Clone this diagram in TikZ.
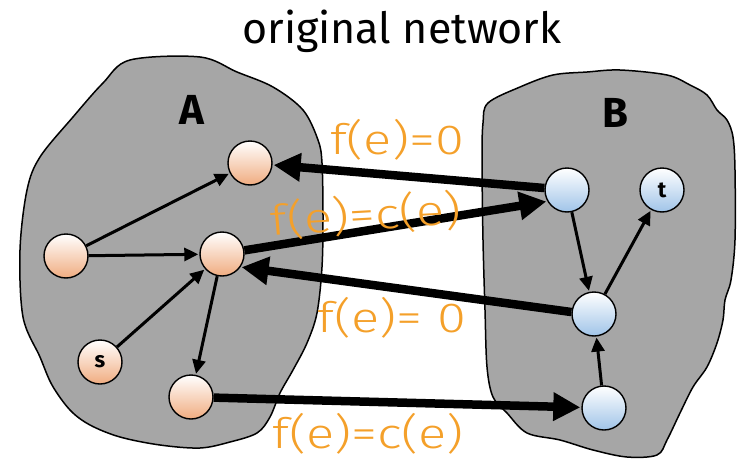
\documentclass[tikz,border=0pt]{standalone}
\usepackage{fontspec}
\setmainfont{Fira Sans}
\newfontfamily\lightfont{Fira Sans Light}
\usetikzlibrary{arrows.meta}
\definecolor{blobgray}{RGB}{166,166,166}
\definecolor{peach}{RGB}{240,172,128}
\definecolor{skyb}{RGB}{160,196,232}
\definecolor{lblorange}{RGB}{244,160,42}
\tikzset{
  blob/.style={fill=blobgray, draw=black, line width=1.5pt},
  anode/.style={circle, draw=black, line width=1.4pt, minimum size=44pt, inner sep=0pt, top color=white, bottom color=peach, font=\bfseries\fontsize{22}{22}\selectfont},
  bnode/.style={circle, draw=black, line width=1.4pt, minimum size=44pt, inner sep=0pt, top color=white, bottom color=skyb, font=\bfseries\fontsize{22}{22}\selectfont},
  thin/.style={line width=3pt, -{Triangle[length=14pt,width=13pt]}, shorten >=1pt},
  thick/.style={line width=8.5pt, -{Triangle[length=27pt,width=27pt]}, shorten >=1pt},
  flab/.style={text=lblorange, font=\lightfont\fontsize{42}{42}\selectfont, inner sep=0pt, xscale=1.25},
  setlab/.style={font=\bfseries\fontsize{42}{42}\selectfont, inner sep=0pt},
}
\begin{document}
\begin{tikzpicture}[x=1pt,y=-1pt]
\useasboundingbox (0,0) rectangle (740,461);
% blobs
\path[blob] plot[smooth cycle, tension=0.55] coordinates {
 (130,60) (200,57) (237,72) (273,87) (303,110) (318,140) (322,163) (323,217)
 (322,267) (317,313) (307,343) (293,370) (280,393) (270,417) (257,433) (230,442)
 (200,448) (160,445) (120,437) (90,425) (70,410) (52,385) (40,357) (23,317) (20,250)
 (27,190) (40,157) (73,117) (103,83)};
\path[blob] plot[smooth cycle, tension=0.55] coordinates {
 (488,103) (520,87) (553,75) (587,72) (620,70) (667,75) (690,85) (707,95) (717,110)
 (727,120) (733,137) (735,170) (735,240) (731,280) (725,300) (723,320) (717,343)
 (707,367) (693,387) (680,413) (667,440) (657,455) (627,457) (593,450) (560,440)
 (527,433) (507,413) (493,397) (487,367) (485,310) (483,240) (482,160) (483,123)};
% title and set labels
\node[font=\fontsize{43}{43}\selectfont, anchor=base] (title) at (402,43) {original network};
\node[setlab] (labA) at (192,110) {A};
\node[setlab] (labB) at (615,113) {B};
% nodes
\node[anode] (a1) at (250,163) {};
\node[anode] (a2) at (66,256) {};
\node[anode] (a3) at (222,254) {};
\node[anode] (s) at (100,362) {s};
\node[anode] (a4) at (191,397) {};
\node[bnode] (b1) at (567,190) {};
\node[bnode] (t) at (662,190) {t};
\node[bnode] (b2) at (594,314) {};
\node[bnode] (b3) at (604,408) {};
% thin edges
\draw[thin] (a2) -- (a1);
\draw[thin] (a2) -- (a3);
\draw[thin] (s) -- (a3);
\draw[thin] (a3) -- (a4);
\draw[thin] (b1) -- (b2);
\draw[thin] (b2) -- (t);
\draw[thin] (b3) -- (b2);
% thick edges
\draw[thick] (b1.175) -- (a1);
\draw[thick] (a3) -- (b1.210);
\draw[thick] (b2.175) -- (a3.-35);
\draw[thick] (a4) -- (b3);
% labels
\node[flab] (l1) at (397,140) {f(e)=0};
\node[flab, rotate=4] (l2) at (366,215) {f(e)=c(e)};
\node[flab] (l3) at (392,318) {f(e)= 0};
\node[flab] (l4) at (368,434) {f(e)=c(e)};
\end{tikzpicture}
\end{document}
